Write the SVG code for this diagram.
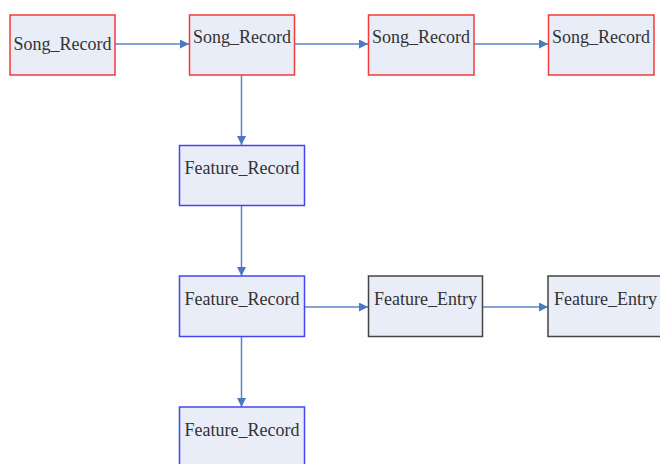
<svg xmlns="http://www.w3.org/2000/svg" width="660" height="464" viewBox="0 0 660 464">
<style>
.box{fill:#e8edf7;stroke-width:1.5}
.red{stroke:#f53a3a}
.blue{stroke:#4646f0}
.dark{stroke:#444444}
.t{font-family:"Liberation Serif",serif;font-size:18px;fill:#333;text-anchor:middle}
.c{stroke:#5b85c8;stroke-width:1.5;fill:none;marker-end:url(#ah)}
</style>
<defs>
<marker id="ah" viewBox="0 0 10 10" refX="10" refY="5" markerWidth="6" markerHeight="6" markerUnits="strokeWidth" orient="auto">
<path d="M0,0 L10,5 L0,10 z" fill="#4a78c4"/>
</marker>
</defs>
<rect width="660" height="464" fill="#fefefe"/>
<g id="connectors">
<line class="c" x1="115" y1="44" x2="189" y2="44"/>
<line class="c" x1="295" y1="44" x2="368" y2="44"/>
<line class="c" x1="474" y1="44" x2="548" y2="44"/>
<line class="c" x1="241.5" y1="75" x2="241.5" y2="145"/>
<line class="c" x1="241.5" y1="206" x2="241.5" y2="276"/>
<line class="c" x1="304" y1="307" x2="368" y2="307"/>
<line class="c" x1="483" y1="307" x2="548" y2="307"/>
<line class="c" x1="241.5" y1="337" x2="241.5" y2="407"/>
</g>
<g id="song1"><rect class="box red" x="10" y="15" width="105" height="60"/><text class="t" x="62.5" y="49.5">Song_Record</text></g>
<g id="song2"><rect class="box red" x="189.5" y="15" width="105" height="60"/><text class="t" x="242" y="43">Song_Record</text></g>
<g id="song3"><rect class="box red" x="368.5" y="15" width="105.5" height="60"/><text class="t" x="421" y="43">Song_Record</text></g>
<g id="song4"><rect class="box red" x="548.5" y="15" width="105.5" height="60"/><text class="t" x="601" y="43">Song_Record</text></g>
<g id="feat1"><rect class="box blue" x="179.5" y="145.5" width="125" height="60"/><text class="t" x="242" y="174">Feature_Record</text></g>
<g id="feat2"><rect class="box blue" x="179.5" y="276" width="125" height="60.5"/><text class="t" x="242" y="305">Feature_Record</text></g>
<g id="feat3"><rect class="box blue" x="179.5" y="407" width="125" height="70"/><text class="t" x="242" y="436">Feature_Record</text></g>
<g id="entry1"><rect class="box dark" x="368.5" y="276" width="114" height="60.5"/><text class="t" x="425.5" y="305">Feature_Entry</text></g>
<g id="entry2"><rect class="box dark" x="548" y="276" width="120" height="60.5"/><text class="t" x="605.5" y="305">Feature_Entry</text></g>
</svg>
